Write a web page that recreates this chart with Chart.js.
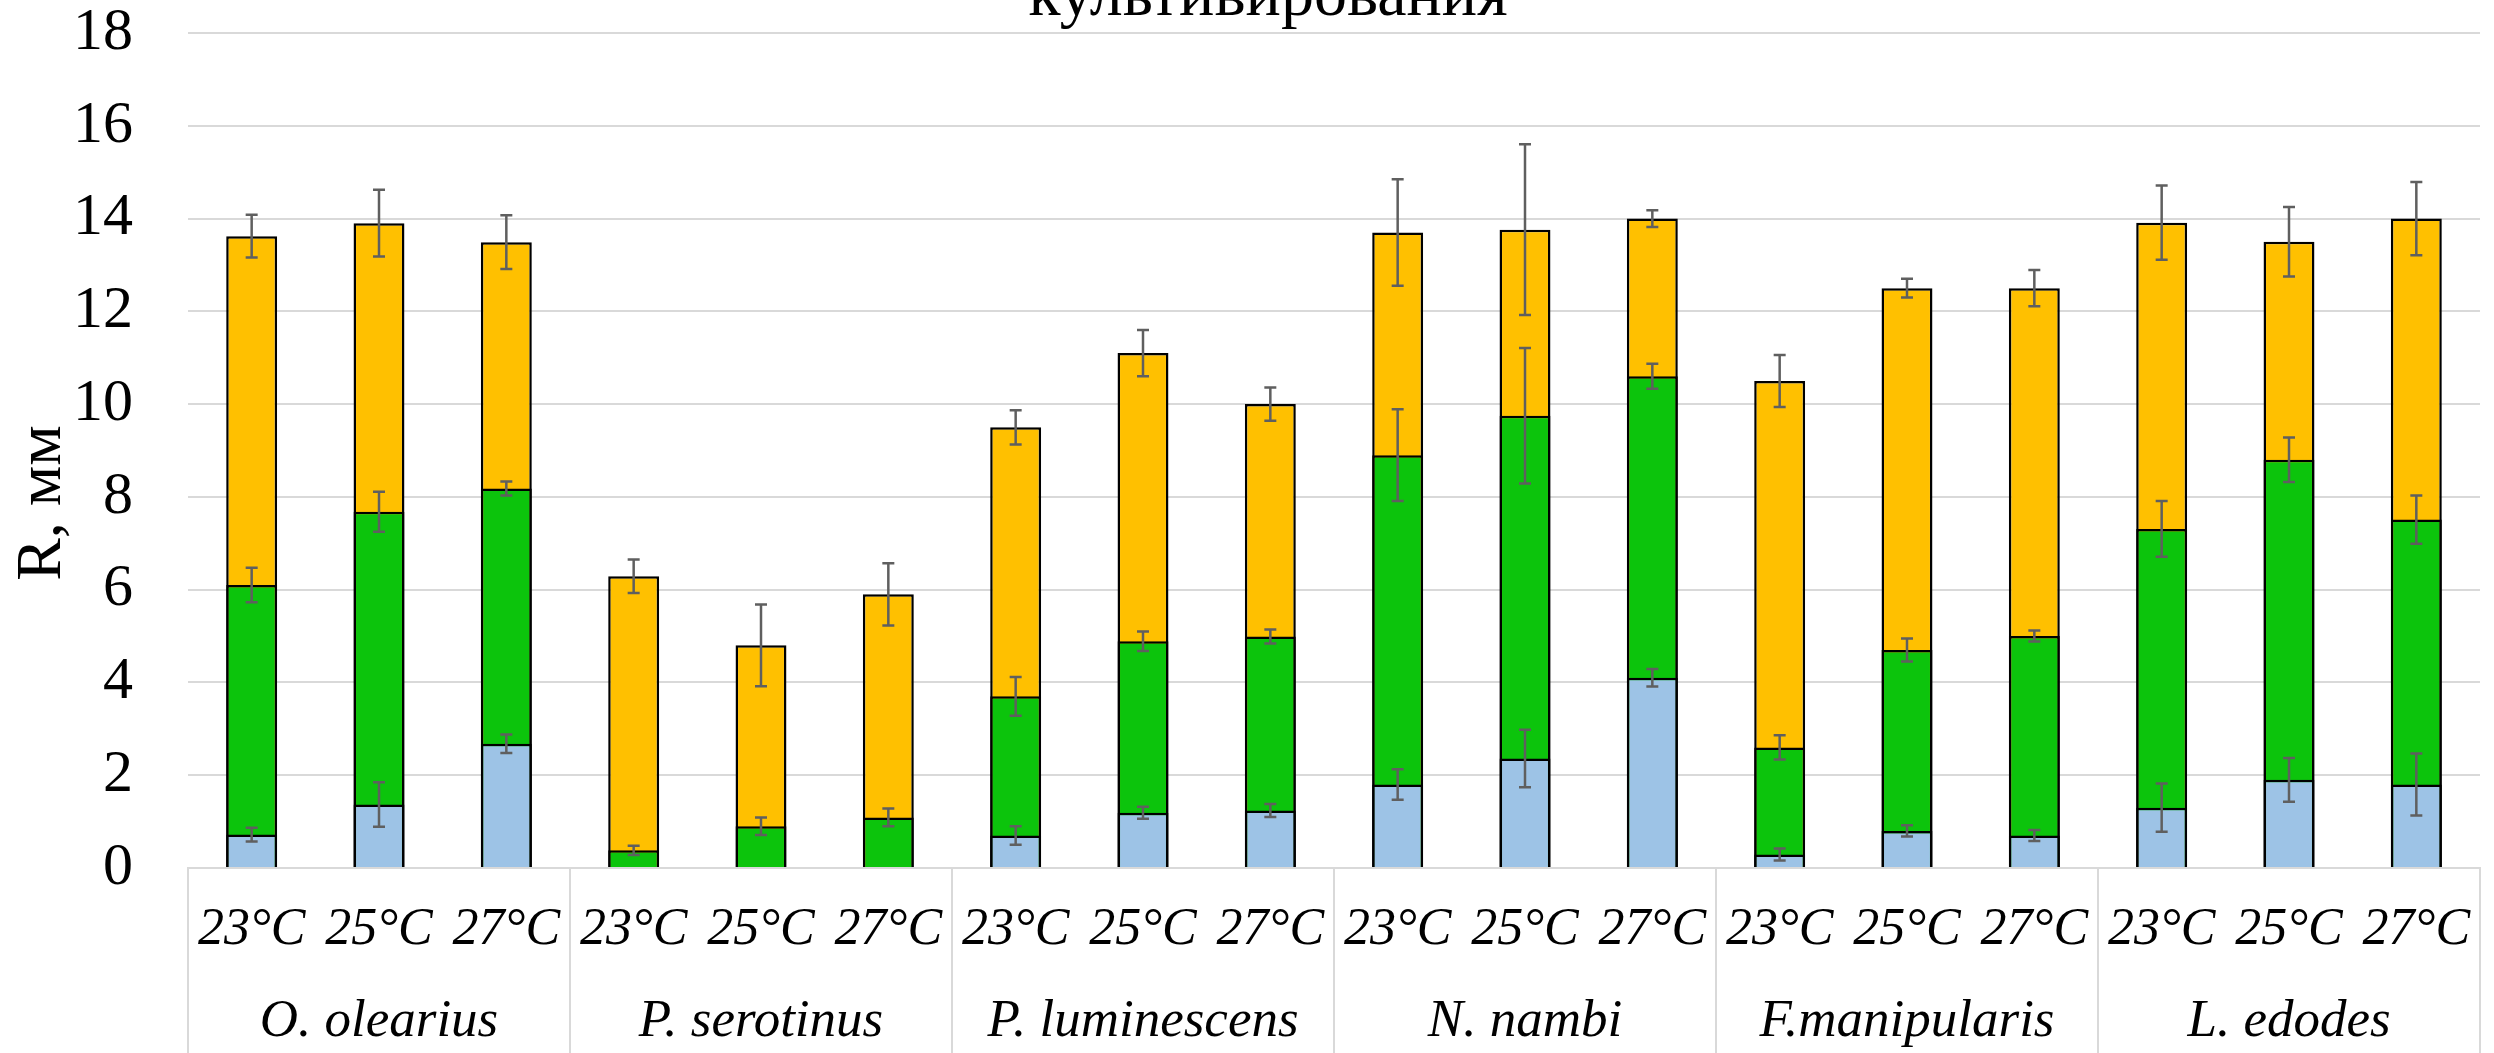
<!DOCTYPE html>
<html>
<head>
<meta charset="utf-8">
<script src="https://cdn.jsdelivr.net/npm/chart.js@4.4.1/dist/chart.umd.min.js"></script>
<style>
  html, body { margin: 0; padding: 0; background: #fff; }
  #wrap { width: 2494px; height: 1053px; overflow: hidden; }
</style>
</head>
<body>
<div id="wrap"><canvas id="growth" width="2494" height="1053"></canvas></div>
<script>
const species = ["O. olearius", "P. serotinus", "P. luminescens", "N. nambi", "F.manipularis", "L. edodes"];
const temps = ["23°C", "25°C", "27°C"];

// radius at each reading (cumulative, mm) and its error, per species x temperature
const stage1 = [0.72, 1.37, 2.68, 0, 0, 0, 0.7, 1.19, 1.24, 1.8, 2.36, 4.1, 0.29, 0.8, 0.7, 1.3, 1.9, 1.8];
const stage1Err = [0.15, 0.48, 0.2, 0, 0, 0, 0.2, 0.13, 0.14, 0.33, 0.62, 0.19, 0.13, 0.12, 0.12, 0.52, 0.47, 0.67];
const stage2 = [6.1, 7.68, 8.18, 0.38, 0.9, 1.09, 3.7, 4.89, 4.99, 8.9, 9.75, 10.6, 2.6, 4.7, 5.0, 7.31, 8.8, 7.51];
const stage2Err = [0.37, 0.43, 0.15, 0.1, 0.19, 0.19, 0.42, 0.21, 0.15, 0.99, 1.46, 0.27, 0.26, 0.25, 0.12, 0.6, 0.48, 0.52];
const stage3 = [13.62, 13.9, 13.49, 6.29, 4.8, 5.9, 9.5, 11.1, 10.0, 13.7, 13.76, 14.0, 10.5, 12.5, 12.5, 13.91, 13.5, 14.0];
const stage3Err = [0.46, 0.72, 0.58, 0.36, 0.88, 0.67, 0.37, 0.5, 0.36, 1.15, 1.84, 0.18, 0.56, 0.2, 0.39, 0.8, 0.75, 0.79];
const yTicks = [0, 2, 4, 6, 8, 10, 12, 14, 16, 18];

const labels = [];
species.forEach(() => temps.forEach(t => labels.push(t)));

const SERIF = "'Liberation Serif', 'Times New Roman', serif";
const GRID = "#d9d9d9";

/* ---------- ERROR BARS ---------- */
const errorBars = {
  id: "errorBars",
  afterDatasetsDraw(chart) {
    const { ctx } = chart;
    const y = chart.scales.y;
    ctx.save();
    ctx.strokeStyle = "#5f5f5f";
    ctx.lineWidth = 2.5;
    chart.data.datasets.forEach((ds, i) => {
      const meta = chart.getDatasetMeta(i);
      ds.errors.forEach((e, j) => {
        if (!e) return;
        const x = meta.data[j].x;
        const top = y.getPixelForValue(ds.data[j] + e);
        const bot = y.getPixelForValue(ds.data[j] - e);
        ctx.beginPath();
        ctx.moveTo(x, top); ctx.lineTo(x, bot);
        ctx.moveTo(x - 6, top); ctx.lineTo(x + 6, top);
        ctx.moveTo(x - 6, bot); ctx.lineTo(x + 6, bot);
        ctx.stroke();
      });
    });
    ctx.restore();
  }
};

/* ---------- SPECIES ROW, TITLE, Y TITLE ---------- */
const extraText = {
  id: "extraText",
  afterDraw(chart) {
    const { ctx } = chart;
    const x = chart.scales.x;
    const half = (x.getPixelForValue(1) - x.getPixelForValue(0)) / 2;

    ctx.save();
    ctx.strokeStyle = GRID;
    ctx.lineWidth = 2;
    ctx.fillStyle = "#000";
    ctx.font = `italic 53px ${SERIF}`;
    ctx.textAlign = "center";
    ctx.textBaseline = "middle";
    species.forEach((name, g) => {
      const left = x.getPixelForValue(g * 3) - half;
      const right = x.getPixelForValue(g * 3 + 2) + half;
      ctx.beginPath();
      ctx.moveTo(left, x.top); ctx.lineTo(left, chart.height);
      if (g === species.length - 1) {
        ctx.moveTo(right, x.top); ctx.lineTo(right, chart.height);
      }
      ctx.stroke();
      ctx.fillText(name, (left + right) / 2, 1022);
    });

    // last line of the chart title
    ctx.font = `66px ${SERIF}`;
    ctx.textBaseline = "alphabetic";
    ctx.fillText("культивирования", 1268, 15);

    // y axis title
    ctx.translate(60, 503);
    ctx.rotate(-Math.PI / 2);
    ctx.font = `64px ${SERIF}`;
    ctx.fillText("R, мм", 0, 0);
    ctx.restore();
  }
};

const barStyle = {
  borderColor: "#000",
  borderWidth: 2.5,
  barPercentage: 0.4,
  categoryPercentage: 1
};

new Chart(document.getElementById("growth"), {
  type: "bar",
  data: {
    labels,
    datasets: [
      { label: "1", data: stage1, errors: stage1Err, backgroundColor: "#9dc3e6", ...barStyle },
      { label: "2", data: stage2, errors: stage2Err, backgroundColor: "#0cc40c", ...barStyle },
      { label: "3", data: stage3, errors: stage3Err, backgroundColor: "#ffc000", ...barStyle }
    ]
  },
  options: {
    responsive: false,
    animation: false,
    layout: { padding: { top: 33, right: 14, bottom: 0, left: 0 } },
    plugins: {
      legend: { display: false },
      tooltip: { enabled: false }
    },
    scales: {
      x: {
        stacked: true,
        afterFit(scale) { scale.height = 185; },
        // invisible tick marks keep the label gap out of the side padding
        grid: { drawOnChartArea: false, tickLength: 36, tickColor: "transparent", color: "transparent" },
        border: { color: GRID, width: 2 },
        ticks: {
          color: "#000",
          padding: 0,
          maxRotation: 0,
          autoSkip: false,
          font: { family: SERIF, size: 52, style: "italic", lineHeight: 1 }
        }
      },
      y: {
        stacked: false,
        min: 0,
        max: 18,
        afterFit(scale) { scale.width = 188; },
        afterBuildTicks(scale) { scale.ticks = yTicks.map(v => ({ value: v })); },
        grid: { color: GRID, lineWidth: 2, tickLength: 55, tickColor: "transparent" },
        border: { display: false },
        ticks: {
          color: "#000",
          padding: 0,
          font: { family: SERIF, size: 60, lineHeight: 1 }
        }
      }
    }
  },
  plugins: [errorBars, extraText]
});
</script>
</body>
</html>
